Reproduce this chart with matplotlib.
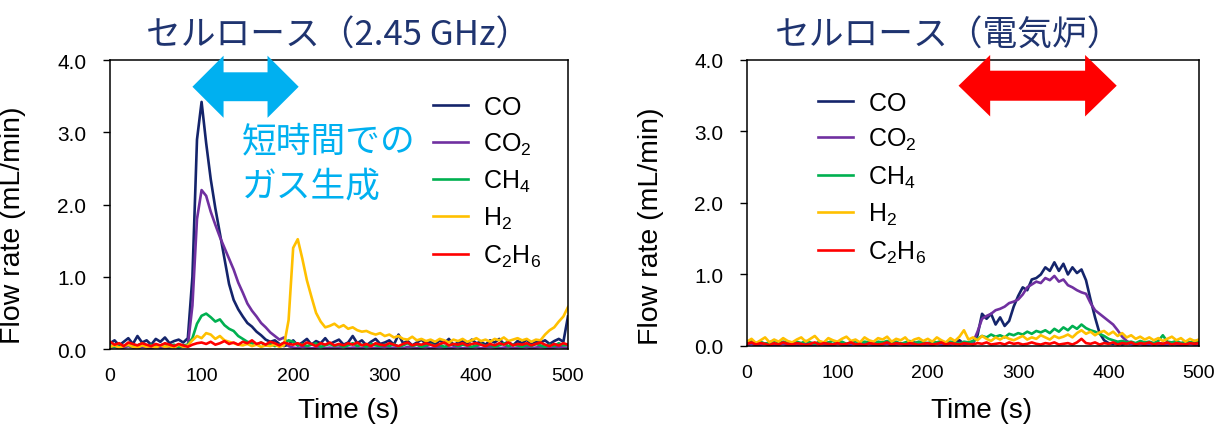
import numpy as np
import matplotlib
matplotlib.use("Agg")
import matplotlib.pyplot as plt
from matplotlib.patches import Polygon

plt.rcParams['font.family'] = ['Liberation Sans', 'DejaVu Sans']
plt.rcParams['mathtext.fontset'] = 'custom'
plt.rcParams['mathtext.rm'] = 'Liberation Sans'
plt.rcParams['mathtext.it'] = 'Liberation Sans:italic'
plt.rcParams['mathtext.bf'] = 'Liberation Sans:bold'

# time axis, one reading every 5 s
t = np.arange(0, 501, 5)

labels = [r'$\mathrm{CO}$', r'$\mathrm{CO_2}$', r'$\mathrm{CH_4}$',
          r'$\mathrm{H_2}$', r'$\mathrm{C_2H_6}$']
colors = ['#14246B', '#7030A0', '#00B050', '#FFC000', '#FF0000']

# --- left: microwave 2.45 GHz ---
mw_co = [0.08, 0.12, 0.05, 0.10, 0.15, 0.07, 0.18, 0.09, 0.12, 0.06,
         0.14, 0.10, 0.16, 0.08, 0.11, 0.13, 0.09, 0.15, 1.00, 2.90,
         3.42, 2.85, 2.35, 1.95, 1.60, 1.25, 0.90, 0.68, 0.55, 0.45,
         0.36, 0.31, 0.24, 0.19, 0.13, 0.10, 0.12, 0.07, 0.04, 0.06,
         0.12, 0.05, 0.09, 0.14, 0.06, 0.11, 0.08, 0.15, 0.07, 0.10,
         0.13, 0.06, 0.09, 0.18, 0.08, 0.12, 0.05, 0.10, 0.14, 0.07,
         0.09, 0.12, 0.06, 0.20, 0.08, 0.11, 0.05, 0.09, 0.13, 0.07,
         0.10, 0.06, 0.12, 0.08, 0.14, 0.05, 0.09, 0.11, 0.07, 0.13,
         0.08, 0.10, 0.06, 0.12, 0.09, 0.14, 0.07, 0.10, 0.05, 0.11,
         0.08, 0.13, 0.06, 0.10, 0.09, 0.12, 0.07, 0.11, 0.14, 0.10,
         0.45]
mw_co2 = [0.02, 0.03, 0.01, 0.02, 0.04, 0.02, 0.01, 0.03, 0.02, 0.01,
          0.03, 0.02, 0.01, 0.02, 0.03, 0.02, 0.04, 0.05, 0.60, 1.80,
          2.20, 2.12, 1.90, 1.72, 1.55, 1.40, 1.25, 1.10, 0.92, 0.78,
          0.63, 0.53, 0.45, 0.36, 0.30, 0.23, 0.18, 0.13, 0.16, 0.04,
          0.02, 0.01, 0.03, 0.02, 0.01, 0.02, 0.03, 0.01, 0.02, 0.01,
          0.02, 0.03, 0.01, 0.02, 0.02, 0.01, 0.03, 0.02, 0.01, 0.02,
          0.03, 0.01, 0.02, 0.02, 0.01, 0.03, 0.02, 0.01, 0.02, 0.03,
          0.01, 0.02, 0.03, 0.02, 0.01, 0.02, 0.03, 0.01, 0.02, 0.02,
          0.03, 0.01, 0.02, 0.03, 0.02, 0.01, 0.02, 0.03, 0.01, 0.02,
          0.02, 0.03, 0.01, 0.02, 0.03, 0.02, 0.01, 0.02, 0.03, 0.02,
          0.02]
mw_ch4 = [0.05, 0.03, 0.07, 0.04, 0.06, 0.03, 0.05, 0.08, 0.04, 0.06,
          0.03, 0.05, 0.07, 0.04, 0.06, 0.03, 0.05, 0.06, 0.15, 0.35,
          0.46, 0.49, 0.44, 0.38, 0.41, 0.33, 0.28, 0.25, 0.18, 0.14,
          0.10, 0.08, 0.06, 0.09, 0.05, 0.07, 0.04, 0.06, 0.08, 0.12,
          0.10, 0.05, 0.07, 0.04, 0.06, 0.08, 0.03, 0.05, 0.07, 0.04,
          0.06, 0.03, 0.05, 0.08, 0.04, 0.06, 0.03, 0.07, 0.05, 0.04,
          0.06, 0.04, 0.07, 0.03, 0.05, 0.08, 0.04, 0.06, 0.03, 0.05,
          0.07, 0.04, 0.06, 0.03, 0.05, 0.07, 0.04, 0.06, 0.05, 0.03,
          0.05, 0.07, 0.04, 0.06, 0.03, 0.05, 0.08, 0.04, 0.06, 0.05,
          0.03, 0.06, 0.04, 0.07, 0.05, 0.03, 0.06, 0.04, 0.08, 0.05,
          0.06]
mw_h2 = [0.03, 0.05, 0.02, 0.04, 0.06, 0.03, 0.02, 0.05, 0.03, 0.04,
         0.02, 0.05, 0.03, 0.04, 0.02, 0.06, 0.03, 0.05, 0.12, 0.18,
         0.15, 0.22, 0.20, 0.14, 0.18, 0.12, 0.10, 0.08, 0.06, 0.05,
         0.07, 0.04, 0.06, 0.03, 0.05, 0.04, 0.06, 0.03, 0.05, 0.40,
         1.40, 1.52, 1.25, 0.95, 0.72, 0.50, 0.38, 0.30, 0.32, 0.35,
         0.30, 0.33, 0.28, 0.30, 0.26, 0.24, 0.25, 0.22, 0.20, 0.22,
         0.18, 0.20, 0.16, 0.18, 0.14, 0.13, 0.17, 0.12, 0.14, 0.11,
         0.13, 0.10, 0.14, 0.12, 0.09, 0.13, 0.11, 0.14, 0.10, 0.12,
         0.15, 0.11, 0.13, 0.10, 0.14, 0.12, 0.16, 0.11, 0.13, 0.15,
         0.12, 0.14, 0.10, 0.13, 0.12, 0.20, 0.26, 0.30, 0.38, 0.45,
         0.58]
mw_c2h6 = [0.10, 0.06, 0.08, 0.04, 0.09, 0.07, 0.05, 0.08, 0.06, 0.04,
           0.07, 0.05, 0.08, 0.06, 0.04, 0.07, 0.05, 0.03, 0.06, 0.08,
           0.09, 0.07, 0.10, 0.06, 0.08, 0.11, 0.07, 0.09, 0.06, 0.10,
           0.08, 0.12, 0.07, 0.09, 0.06, 0.10, 0.08, 0.05, 0.09, 0.07,
           0.06, 0.08, 0.05, 0.09, 0.07, 0.04, 0.08, 0.06, 0.09, 0.05,
           0.07, 0.05, 0.08, 0.06, 0.09, 0.05, 0.07, 0.04, 0.08, 0.06,
           0.05, 0.08, 0.06, 0.04, 0.07, 0.09, 0.05, 0.07, 0.06, 0.08,
           0.06, 0.04, 0.07, 0.09, 0.05, 0.07, 0.06, 0.08, 0.05, 0.07,
           0.08, 0.06, 0.04, 0.07, 0.05, 0.08, 0.06, 0.09, 0.05, 0.07,
           0.06, 0.08, 0.05, 0.07, 0.09, 0.06, 0.04, 0.07, 0.05, 0.08,
           0.06]

# --- right: electric furnace ---
ef_co = [0.03, 0.06, 0.02, 0.04, 0.03, 0.05, 0.02, 0.03, 0.04, 0.02,
         0.03, 0.05, 0.02, 0.04, 0.03, 0.02, 0.05, 0.03, 0.04, 0.02,
         0.03, 0.04, 0.02, 0.05, 0.03, 0.02, 0.04, 0.03, 0.02, 0.04,
         0.03, 0.05, 0.02, 0.03, 0.04, 0.02, 0.03, 0.05, 0.02, 0.04,
         0.03, 0.02, 0.04, 0.03, 0.05, 0.02, 0.04, 0.08, 0.03, 0.05,
         0.04, 0.15, 0.45, 0.38, 0.45, 0.30, 0.40, 0.28, 0.35, 0.55,
         0.70, 0.82, 0.78, 0.93, 0.95, 1.00, 1.10, 1.05, 1.17, 1.05,
         1.15, 1.00, 1.10, 1.02, 1.07, 0.92, 0.65, 0.40, 0.18, 0.08,
         0.04, 0.03, 0.05, 0.02, 0.04, 0.03, 0.02, 0.04, 0.03, 0.05,
         0.02, 0.04, 0.03, 0.02, 0.05, 0.03, 0.04, 0.02, 0.03, 0.04,
         0.03]
ef_co2 = [0.02, 0.03, 0.01, 0.02, 0.03, 0.02, 0.01, 0.02, 0.03, 0.01,
          0.02, 0.01, 0.03, 0.02, 0.01, 0.02, 0.03, 0.02, 0.01, 0.02,
          0.03, 0.02, 0.01, 0.02, 0.03, 0.01, 0.02, 0.03, 0.02, 0.01,
          0.02, 0.03, 0.01, 0.02, 0.03, 0.02, 0.01, 0.02, 0.03, 0.02,
          0.01, 0.02, 0.03, 0.02, 0.01, 0.03, 0.02, 0.04, 0.02, 0.03,
          0.05, 0.20, 0.38, 0.42, 0.45, 0.50, 0.52, 0.55, 0.60, 0.62,
          0.65, 0.72, 0.82, 0.86, 0.90, 0.88, 0.95, 0.92, 0.98, 0.90,
          0.93, 0.85, 0.82, 0.78, 0.75, 0.73, 0.60, 0.50, 0.45, 0.40,
          0.35, 0.30, 0.22, 0.13, 0.07, 0.03, 0.02, 0.03, 0.01, 0.02,
          0.03, 0.02, 0.01, 0.02, 0.03, 0.02, 0.01, 0.02, 0.03, 0.02,
          0.02]
ef_ch4 = [0.05, 0.07, 0.04, 0.06, 0.03, 0.05, 0.08, 0.04, 0.06, 0.05,
          0.03, 0.06, 0.04, 0.07, 0.05, 0.03, 0.06, 0.04, 0.05, 0.07,
          0.04, 0.06, 0.03, 0.05, 0.07, 0.04, 0.06, 0.05, 0.03, 0.06,
          0.05, 0.07, 0.04, 0.06, 0.03, 0.05, 0.07, 0.04, 0.06, 0.05,
          0.04, 0.06, 0.05, 0.07, 0.04, 0.06, 0.05, 0.03, 0.06, 0.05,
          0.07, 0.10, 0.14, 0.12, 0.16, 0.13, 0.15, 0.12, 0.17, 0.15,
          0.18, 0.16, 0.20, 0.17, 0.21, 0.19, 0.22, 0.18, 0.24, 0.20,
          0.26, 0.22, 0.28, 0.24, 0.30, 0.25, 0.22, 0.20, 0.17, 0.14,
          0.10, 0.08, 0.06, 0.07, 0.05, 0.06, 0.04, 0.07, 0.05, 0.06,
          0.04, 0.07, 0.15, 0.06, 0.05, 0.07, 0.04, 0.06, 0.05, 0.07,
          0.06]
ef_h2 = [0.06, 0.10, 0.04, 0.08, 0.12, 0.05, 0.09, 0.06, 0.11, 0.07,
         0.05, 0.09, 0.12, 0.06, 0.10, 0.14, 0.07, 0.05, 0.11, 0.08,
         0.06, 0.10, 0.13, 0.07, 0.09, 0.05, 0.12, 0.08, 0.06, 0.11,
         0.09, 0.13, 0.06, 0.10, 0.08, 0.12, 0.05, 0.09, 0.11, 0.07,
         0.10, 0.06, 0.12, 0.08, 0.05, 0.11, 0.07, 0.13, 0.22, 0.09,
         0.12, 0.08, 0.14, 0.10, 0.07, 0.12, 0.09, 0.13, 0.10, 0.08,
         0.11, 0.14, 0.09, 0.12, 0.10, 0.15, 0.12, 0.09, 0.14, 0.11,
         0.13, 0.16, 0.12, 0.18, 0.22, 0.17, 0.20, 0.15, 0.19, 0.21,
         0.16, 0.20, 0.14, 0.18, 0.12, 0.15, 0.10, 0.13, 0.09, 0.12,
         0.08, 0.11, 0.07, 0.10, 0.13, 0.08, 0.11, 0.06, 0.10, 0.07,
         0.09]
ef_c2h6 = [0.03, 0.05, 0.02, 0.04, 0.03, 0.01, 0.04, 0.02, 0.05, 0.03,
           0.02, 0.04, 0.03, 0.01, 0.03, 0.05, 0.02, 0.04, 0.03, 0.02,
           0.04, 0.02, 0.03, 0.05, 0.02, 0.03, 0.01, 0.04, 0.03, 0.02,
           0.03, 0.05, 0.02, 0.04, 0.03, 0.02, 0.04, 0.03, 0.01, 0.03,
           0.04, 0.02, 0.03, 0.05, 0.02, 0.04, 0.03, 0.02, 0.04, 0.03,
           0.02, 0.04, 0.03, 0.05, 0.02, 0.03, 0.04, 0.02, 0.05, 0.03,
           0.04, 0.02, 0.03, 0.05, 0.03, 0.02, 0.04, 0.03, 0.05, 0.02,
           0.03, 0.04, 0.02, 0.05, 0.10, 0.04, 0.03, 0.05, 0.02, 0.04,
           0.03, 0.05, 0.02, 0.04, 0.03, 0.05, 0.02, 0.04, 0.03, 0.05,
           0.02, 0.04, 0.03, 0.05, 0.02, 0.04, 0.03, 0.02, 0.04, 0.03,
           0.04]

titles = ['セルロース（2.45 GHz）', 'セルロース（電気炉）']
note = ['短時間での', 'ガス生成']
navy = '#1F3470'
cyan = '#00B0F0'


def double_arrow(ax, x0, x1, yc, shaft, head, hl, color):
    pts = [(x0, yc), (x0 + hl, yc + head), (x0 + hl, yc + shaft),
           (x1 - hl, yc + shaft), (x1 - hl, yc + head), (x1, yc),
           (x1 - hl, yc - head), (x1 - hl, yc - shaft),
           (x0 + hl, yc - shaft), (x0 + hl, yc - head)]
    ax.add_patch(Polygon(pts, closed=True, color=color, lw=0,
                         clip_on=False, zorder=5))


def setup(ax, ylab_y, xlab_y):
    ax.set_xlim(0, 500)
    ax.set_ylim(0, 4.0)
    ax.set_xticks(np.arange(0, 501, 100))
    ax.set_yticks(np.arange(0, 4.01, 1.0))
    ax.set_yticklabels(['%.1f' % v for v in np.arange(0, 4.01, 1.0)])
    ax.tick_params(axis='y', direction='out', length=5, width=1,
                   pad=12, labelsize=15)
    ax.tick_params(axis='x', length=0, pad=13, labelsize=14)
    for s in ax.spines.values():
        s.set_linewidth(1.1)
    ax.set_xlabel('Time (s)', fontsize=20)
    ax.set_ylabel('Flow rate (mL/min)', fontsize=20.5)
    ax.yaxis.set_label_coords(-0.183, ylab_y)
    ax.xaxis.set_label_coords(0.52, xlab_y)


fig = plt.figure(figsize=(12.18, 4.27), dpi=100)
ax1 = fig.add_axes([0.0903, 0.1803, 0.376, 0.6768])
ax2 = fig.add_axes([0.6133, 0.1874, 0.3711, 0.6698])

left = [mw_co, mw_co2, mw_ch4, mw_h2, mw_c2h6]
right = [ef_co, ef_co2, ef_ch4, ef_h2, ef_c2h6]

for ys, lab, c in zip(left, labels, colors):
    ax1.plot(t, ys, color=c, lw=1.9, label=lab)
for ys, lab, c in zip(right, labels, colors):
    ax2.plot(t, ys, color=c, lw=1.9, label=lab)

setup(ax1, 0.43, -0.166)
setup(ax2, 0.423, -0.178)

leg_kw = dict(loc='upper left', frameon=False, fontsize=18, borderpad=0,
              borderaxespad=0, handlelength=1.4, handletextpad=0.6,
              labelspacing=0.45, bbox_transform=fig.transFigure)
ax1.legend(bbox_to_anchor=(0.3553, 0.775), **leg_kw)
ax2.legend(bbox_to_anchor=(0.6716, 0.785), **leg_kw)

double_arrow(ax1, 90, 206, 3.63, 0.2, 0.43, 34, cyan)
double_arrow(ax2, 234, 409, 3.64, 0.21, 0.43, 35, '#FF0000')

jp = ['Noto Sans CJK JP', 'DejaVu Sans']
fig.text(0.278, 0.915, titles[0], ha='center', va='center', fontsize=25,
         color=navy, family=jp)
fig.text(0.779, 0.915, titles[1], ha='center', va='center', fontsize=25,
         color=navy, family=jp)
fig.text(0.1987, 0.668, note[0], ha='left', va='center', fontsize=25,
         color=cyan, family=jp)
fig.text(0.1987, 0.563, note[1], ha='left', va='center', fontsize=25,
         color=cyan, family=jp)

fig.savefig('out.png', dpi=100)
